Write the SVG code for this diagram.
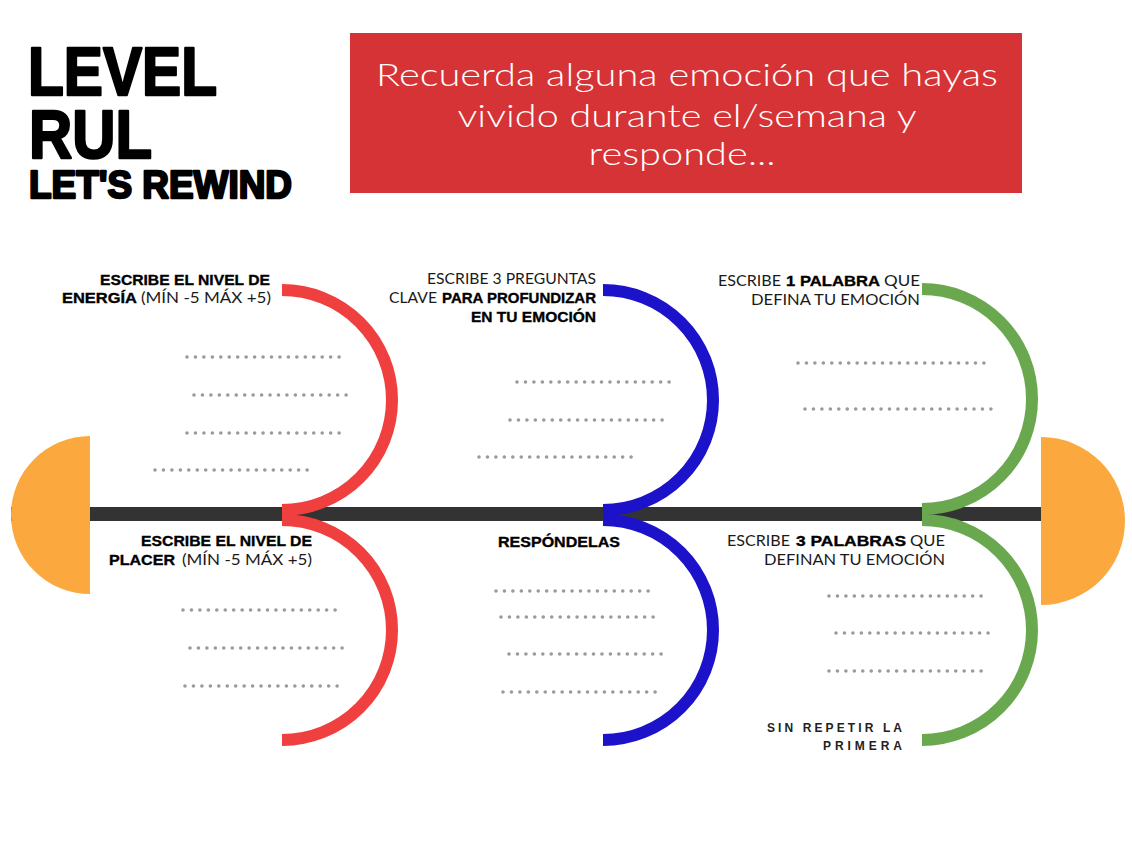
<svg xmlns="http://www.w3.org/2000/svg" width="1132" height="849" viewBox="0 0 1132 849">
<style>
.title{font-family:"Liberation Sans",Arial,sans-serif;font-weight:bold;fill:#000;stroke:#000;stroke-width:2.4;stroke-linejoin:round}
.hdr{font-family:"Lato","Liberation Sans",sans-serif;font-weight:300;font-size:32px;fill:#fff}
.r{font-family:"Lato","Liberation Sans",Arial,sans-serif;font-weight:normal;font-size:16px;fill:#1a1a1a}
.b{font-family:"Liberation Sans",Arial,sans-serif;font-weight:bold;font-size:15.5px;fill:#000;stroke:#000;stroke-width:0.35}
.sp{font-family:"Liberation Sans",Arial,sans-serif;font-weight:bold;font-size:12px;fill:#222}
.arc{fill:none;stroke-width:12}
.red{stroke:#ef3f3f}
.blue{stroke:#1c12c9}
.green{stroke:#6aa84f}
.dots{fill:none;stroke:#9a9a9a;stroke-width:3.6;stroke-linecap:round;stroke-dasharray:0 8.45}
.cap{fill:#fba93e}
</style>
<rect width="1132" height="849" fill="#fff"/>
<g id="title">
<text class="title" x="28" y="95" font-size="68" textLength="189" lengthAdjust="spacingAndGlyphs">LEVEL</text>
<text class="title" x="29" y="158" font-size="68" textLength="123" lengthAdjust="spacingAndGlyphs">RUL</text>
<text class="title" x="29" y="198" font-size="39" textLength="263" lengthAdjust="spacingAndGlyphs">LET'S REWIND</text>
</g>
<g id="header">
<rect x="350" y="33" width="672" height="160" fill="#d63336"/>
<text class="hdr" x="687" y="86" text-anchor="middle" textLength="622" lengthAdjust="spacingAndGlyphs">Recuerda alguna emoción que hayas</text>
<text class="hdr" x="687" y="127" text-anchor="middle" textLength="459" lengthAdjust="spacingAndGlyphs">vivido durante el/semana y</text>
<text class="hdr" x="682" y="165" text-anchor="middle" textLength="187" lengthAdjust="spacingAndGlyphs">responde...</text>
</g>
<g id="connectors">
<rect x="11" y="507" width="1030" height="14" fill="#333"/>
<path class="arc red" d="M282 290 A110 110 0 0 1 282 510"/>
<path class="arc red" d="M282 520 A110 110 0 0 1 282 740"/>
<path class="arc blue" d="M603 290 A110 110 0 0 1 603 510"/>
<path class="arc blue" d="M603 520 A110 110 0 0 1 603 740"/>
<path class="arc green" d="M922 289 A110 110 0 0 1 922 509"/>
<path class="arc green" d="M922 520 A110 110 0 0 1 922 740"/>
</g>
<g id="head-left"><path class="cap" d="M90 436 A79 79 0 0 0 90 594 Z"/></g>
<g id="head-right"><path class="cap" d="M1041 437 A84 84 0 0 1 1041 605 Z"/></g>
<g id="node-energia">
<text class="b" x="100" y="285" textLength="170" lengthAdjust="spacingAndGlyphs">ESCRIBE EL NIVEL DE</text>
<text class="b" x="62" y="303" textLength="75" lengthAdjust="spacingAndGlyphs">ENERGÍA</text>
<text class="r" x="141" y="303" textLength="130" lengthAdjust="spacingAndGlyphs">(MÍN -5 MÁX +5)</text>
<line class="dots" x1="187" y1="357" x2="342" y2="357"/>
<line class="dots" x1="194" y1="395" x2="349" y2="395"/>
<line class="dots" x1="187" y1="433" x2="342" y2="433"/>
<line class="dots" x1="155" y1="470" x2="310" y2="470"/>
</g>
<g id="node-preguntas">
<text class="r" x="427" y="284" textLength="169" lengthAdjust="spacingAndGlyphs">ESCRIBE 3 PREGUNTAS</text>
<text class="r" x="389" y="303" textLength="48" lengthAdjust="spacingAndGlyphs">CLAVE</text>
<text class="b" x="442" y="303" textLength="154" lengthAdjust="spacingAndGlyphs">PARA PROFUNDIZAR</text>
<text class="b" x="471" y="322" textLength="125" lengthAdjust="spacingAndGlyphs">EN TU EMOCIÓN</text>
<line class="dots" x1="517" y1="382" x2="672" y2="382"/>
<line class="dots" x1="510" y1="420" x2="665" y2="420"/>
<line class="dots" x1="479" y1="457" x2="634" y2="457"/>
</g>
<g id="node-palabra">
<text class="r" x="718" y="286" textLength="63" lengthAdjust="spacingAndGlyphs">ESCRIBE</text>
<text class="b" x="786" y="286" textLength="94" lengthAdjust="spacingAndGlyphs">1 PALABRA</text>
<text class="r" x="884" y="286" textLength="36" lengthAdjust="spacingAndGlyphs">QUE</text>
<text class="r" x="751" y="305" textLength="169" lengthAdjust="spacingAndGlyphs">DEFINA TU EMOCIÓN</text>
<line class="dots" x1="798" y1="363" x2="984" y2="363"/>
<line class="dots" x1="805" y1="409" x2="991" y2="409"/>
</g>
<g id="node-placer">
<text class="b" x="141" y="546" textLength="171" lengthAdjust="spacingAndGlyphs">ESCRIBE EL NIVEL DE</text>
<text class="b" x="109" y="565" textLength="66" lengthAdjust="spacingAndGlyphs">PLACER</text>
<text class="r" x="182" y="565" textLength="130" lengthAdjust="spacingAndGlyphs">(MÍN -5 MÁX +5)</text>
<line class="dots" x1="183" y1="610" x2="338" y2="610"/>
<line class="dots" x1="190" y1="648" x2="345" y2="648"/>
<line class="dots" x1="185" y1="686" x2="340" y2="686"/>
</g>
<g id="node-respondelas">
<text class="b" x="498" y="547" textLength="122" lengthAdjust="spacingAndGlyphs">RESPÓNDELAS</text>
<line class="dots" x1="496" y1="591" x2="651" y2="591"/>
<line class="dots" x1="501" y1="617" x2="656" y2="617"/>
<line class="dots" x1="509" y1="654" x2="664" y2="654"/>
<line class="dots" x1="503" y1="692" x2="658" y2="692"/>
</g>
<g id="node-palabras">
<text class="r" x="727" y="546" textLength="63" lengthAdjust="spacingAndGlyphs">ESCRIBE</text>
<text class="b" x="796" y="546" textLength="110" lengthAdjust="spacingAndGlyphs">3 PALABRAS</text>
<text class="r" x="910" y="546" textLength="35" lengthAdjust="spacingAndGlyphs">QUE</text>
<text class="r" x="764" y="565" textLength="181" lengthAdjust="spacingAndGlyphs">DEFINAN TU EMOCIÓN</text>
<line class="dots" x1="829" y1="596" x2="984" y2="596"/>
<line class="dots" x1="836" y1="633" x2="991" y2="633"/>
<line class="dots" x1="829" y1="671" x2="984" y2="671"/>
<text class="sp" x="767" y="732" textLength="135" lengthAdjust="spacing">SIN REPETIR LA</text>
<text class="sp" x="823" y="750" textLength="79" lengthAdjust="spacing">PRIMERA</text>
</g>
</svg>
